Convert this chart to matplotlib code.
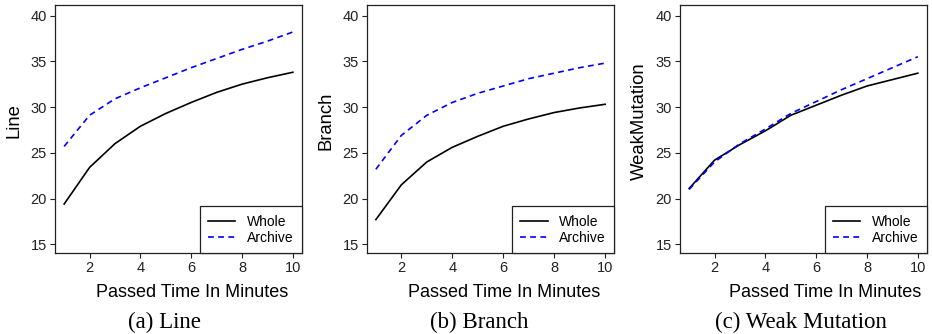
import matplotlib
matplotlib.use("Agg")
from matplotlib import pyplot as plt

# coverage over time, one panel per criterion
minutes = [1, 2, 3, 4, 5, 6, 7, 8, 9, 10]

line_whole = [19.4, 23.4, 26.0, 27.9, 29.3, 30.5, 31.6, 32.5, 33.2, 33.8]
line_archive = [25.7, 29.1, 30.9, 32.1, 33.2, 34.3, 35.3, 36.3, 37.2, 38.2]

branch_whole = [17.7, 21.5, 24.0, 25.6, 26.8, 27.9, 28.7, 29.4, 29.9, 30.3]
branch_archive = [23.2, 26.9, 29.1, 30.5, 31.5, 32.3, 33.1, 33.7, 34.3, 34.8]

weak_whole = [21.1, 24.2, 25.9, 27.4, 29.1, 30.2, 31.3, 32.3, 33.0, 33.7]
weak_archive = [21.0, 24.0, 26.0, 27.6, 29.3, 30.6, 31.9, 33.1, 34.3, 35.5]

ylabels = ["Line", "Branch", "WeakMutation"]
captions = ["(a) Line", "(b) Branch", "(c) Weak Mutation"]
series = [(line_whole, line_archive), (branch_whole, branch_archive),
          (weak_whole, weak_archive)]
labels = ["Whole", "Archive"]

W, H = 932, 334
plt.rcParams['font.family'] = ['Liberation Sans', 'DejaVu Sans']
fig = plt.figure(figsize=(W / 100, H / 100), dpi=100)

# panel boxes in pixels: left, right
boxes = [(55, 302), (366.7, 614.3), (680, 927)]
top, bottom = 5, 253
xlab_cx = [191.7, 503.8, 825]
cap_cx = [164, 479.3, 801]
ylab_cy = 121

for i in range(3):
    l, r = boxes[i]
    ax = fig.add_axes([l / W, 1 - bottom / H, (r - l) / W, (bottom - top) / H])
    whole, archive = series[i]
    h1, = ax.plot(minutes, whole, color='black', lw=1.2)
    h2, = ax.plot(minutes, archive, color='#0000ff', lw=1.2, linestyle=(0, (3.5, 2.6)))
    ax.set_xlim(0.64, 10.36)
    ax.set_ylim(14.05, 41.15)
    ax.set_xticks([2, 4, 6, 8, 10])
    ax.set_yticks([15, 20, 25, 30, 35, 40])
    ax.tick_params(labelsize=10.5, length=3.6, width=0.8, pad=2.2, colors='#222222')
    for s in ax.spines.values():
        s.set_color('#222222')
        s.set_linewidth(0.9)
    leg = ax.legend([h1, h2], labels, loc='lower right', borderaxespad=0,
                    fancybox=False, edgecolor='#222222', framealpha=1,
                    fontsize=10, handlelength=1.95, handletextpad=0.85,
                    borderpad=0.6, labelspacing=0.15)
    leg.get_frame().set_linewidth(0.9)

    fig.text((l - 41) / W, 1 - ylab_cy / H, ylabels[i], rotation=90,
             ha='center', va='center', fontsize=13.3)
    fig.text(xlab_cx[i] / W, 1 - 297 / H, "Passed Time In Minutes",
             ha='center', va='baseline', fontsize=13)
    fig.text(cap_cx[i] / W, 1 - 328 / H, captions[i], ha='center', va='baseline',
             fontsize=16.5, family=['Liberation Serif', 'DejaVu Serif'])

fig.savefig("out.png", dpi=100)
